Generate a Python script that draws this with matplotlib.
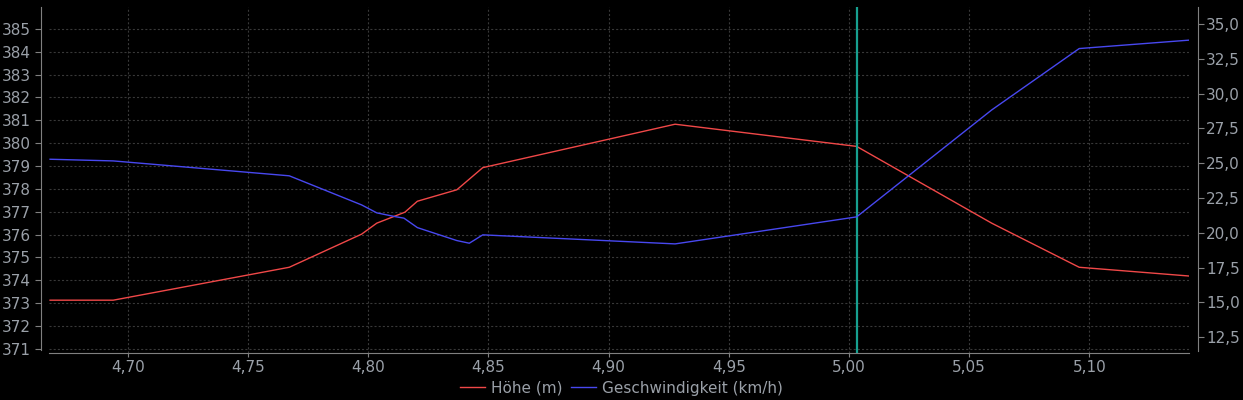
import matplotlib.pyplot as plt
from matplotlib.ticker import FuncFormatter, MultipleLocator

# Distance (km) and altitude (m)
hoehe_km = [4.6677, 4.694, 4.7672, 4.7973, 4.8036, 4.8153, 4.8205, 4.8369,
            4.8477, 4.9277, 5.0032, 5.0594, 5.0958, 5.1412]
hoehe_m = [373.13, 373.13, 374.57, 376.02, 376.50, 376.98, 377.46, 377.96,
           378.93, 380.83, 379.86, 376.50, 374.57, 374.19]

# Distance (km) and speed (km/h)
speed_km = [4.6677, 4.694, 4.7672, 4.7973, 4.8036, 4.8112, 4.8149, 4.8205,
            4.8369, 4.8421, 4.8477, 4.9277, 5.0032, 5.0594, 5.0958, 5.1412]
speed_kmh = [25.28, 25.16, 24.09, 22.0, 21.43, 21.16, 21.05, 20.37,
             19.44, 19.25, 19.85, 19.20, 21.14, 28.82, 33.23, 33.83]

marker_km = 5.0034

plt.rcParams['lines.scale_dashes'] = False
text_col = '#9aa0a8'
axis_col = '#808080'
fs = 11

fig = plt.figure(figsize=(12.43, 4.0), dpi=100, facecolor='black')
ax = fig.add_axes([0.0397, 0.117, 0.9171, 0.865])
ax.set_facecolor('black')
ax2 = ax.twinx()

l1, = ax.plot(hoehe_km, hoehe_m, color='#f04848', lw=1.0, label='Höhe (m)')
l2, = ax2.plot(speed_km, speed_kmh, color='#4848f0', lw=1.0, label='Geschwindigkeit (km/h)')
ax.axvline(marker_km, color='#17a090', lw=1.6, zorder=5)

ax.set_xlim(4.6674, 5.1416)
ax.set_ylim(370.81, 385.95)
ax2.set_ylim(11.35, 36.2)

ax.xaxis.set_major_locator(MultipleLocator(0.05))
ax.yaxis.set_major_locator(MultipleLocator(1))
ax2.yaxis.set_major_locator(MultipleLocator(2.5))
ax.xaxis.set_major_formatter(FuncFormatter(lambda v, p: f'{v:.2f}'.replace('.', ',')))
ax.yaxis.set_major_formatter(FuncFormatter(lambda v, p: f'{v:.0f}'))
ax2.yaxis.set_major_formatter(FuncFormatter(lambda v, p: f'{v:.1f}'.replace('.', ',')))

ax.grid(True, color='#383838', linestyle=(0, (1.5, 1.5)), linewidth=0.8)

for a in (ax, ax2):
    for s in a.spines.values():
        s.set_color(axis_col)
    a.spines['top'].set_visible(False)
    a.tick_params(colors=axis_col, labelcolor=text_col, labelsize=fs, length=4, width=0.8)
ax.spines['right'].set_visible(False)
ax2.spines['left'].set_visible(False)
ax2.spines['bottom'].set_visible(False)
ax.spines['left'].set_position(('outward', 6))
ax2.spines['right'].set_position(('outward', 6))
ax.spines['left'].set_bounds(370.95, 385.95)
ax2.spines['right'].set_bounds(11.5, 36.2)
ax.tick_params(axis='y', pad=3)
ax2.tick_params(axis='y', pad=2)
ax.tick_params(axis='x', length=3, pad=2)

leg = fig.legend(handles=[l1, l2], loc='center', bbox_to_anchor=(0.5, 0.03), ncol=2,
                 frameon=False, fontsize=fs, handlelength=1.6, handletextpad=0.4,
                 columnspacing=0.6, labelcolor=text_col)

fig.savefig('out.png', dpi=100, facecolor='black')
